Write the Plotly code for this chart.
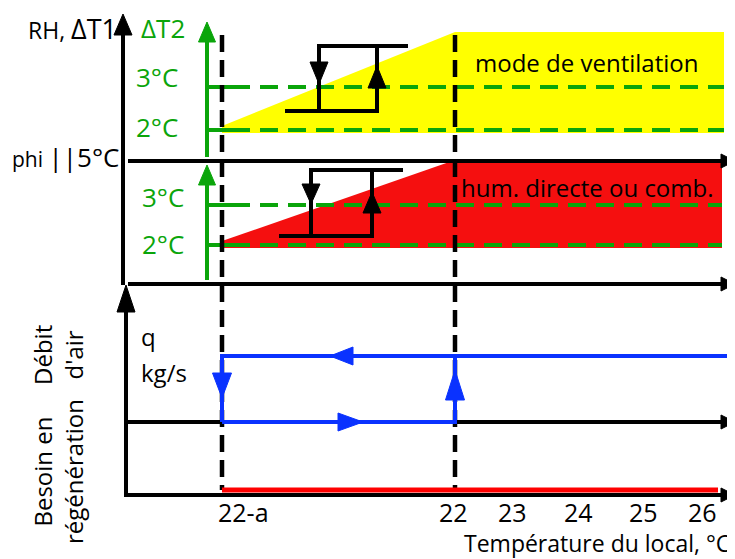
import plotly.graph_objects as go

W, H = 735, 559
PAGE_OFFSET = 8   # browser body margin; the axis range is shifted so marks land where intended
FONT = "Open Sans"

# ---------------- data (diagram units) ----------------
# temperature ticks along the bottom axis
tick_labels = ["22-a", "22", "23", "24", "25", "26"]
tick_x = [243, 453, 512, 578, 643, 702]
tick_y = 512

# switching temperatures (dashed verticals): 22-a and 22
x_low = 222
x_high = 455
dash_top, dash_bot = 35, 490

# main axes
x_axis_start = 128
x_axis_end = 735
upper_vaxis_x = 123
upper_vaxis = [285, 34]
lower_vaxis_x = 126
lower_vaxis = [497, 312]
h_axes_y = [161, 284, 422, 495]        # horizontal axis lines

# Delta T2 axes (green)
dt2_axis_x = 207
dt2_upper = [157, 42]
dt2_lower = [280, 185]
dt2_levels_upper = [87, 130]         # 3°C, 2°C levels in ventilation mode
dt2_levels_lower = [205, 245]        # 3°C, 2°C levels in direct humidification
dt2_labels = ["3°C", "2°C"]
dt2_end_upper = 724
dt2_end_lower = 722

# zone fills
vent_zone_x = [x_low, x_high, 724, 724, x_low]
vent_zone_y = [126, 32, 32, 133, 133]
hum_zone_x = [x_low, x_high, 722, 722, x_low]
hum_zone_y = [241, 160, 160, 248, 248]

# hysteresis loops
hyst_upper = dict(xb=285, xl=319, xr=377, xt=408, yt=46, yb=111)
hyst_lower = dict(xb=279, xl=311, xr=372, xt=403, yt=170, yb=236)

# air flow (blue) and regeneration (red)
q_high = 356
q_low = 422
q_end = 728
regen_y = 490
regen_end = 718

YELLOW = "#ffff00"
RED = "#f50f0f"
GREEN = "#0aa50a"
BLUE = "#0a32ff"
BLACK = "#000000"

fig = go.Figure()


def poly_fill(xs, ys, color):
    fig.add_trace(go.Scatter(x=xs, y=ys, mode="lines", fill="toself",
                             fillcolor=color, line=dict(width=0, color=color),
                             hoverinfo="skip", showlegend=False))


def line(xs, ys, color, width=4, dash=None):
    fig.add_trace(go.Scatter(x=xs, y=ys, mode="lines",
                             line=dict(color=color, width=width, dash=dash),
                             hoverinfo="skip", showlegend=False))


def tri(xt, yt, direction, length, half, color):
    if direction == "up":
        xs = [xt, xt - half, xt + half, xt]
        ys = [yt, yt + length, yt + length, yt]
    elif direction == "down":
        xs = [xt, xt - half, xt + half, xt]
        ys = [yt, yt - length, yt - length, yt]
    elif direction == "right":
        xs = [xt, xt - length, xt - length, xt]
        ys = [yt, yt - half, yt + half, yt]
    else:
        xs = [xt, xt + length, xt + length, xt]
        ys = [yt, yt - half, yt + half, yt]
    fig.add_trace(go.Scatter(x=xs, y=ys, mode="lines", fill="toself",
                             fillcolor=color, line=dict(width=1, color=color),
                             hoverinfo="skip", showlegend=False))


# zone fills
poly_fill(vent_zone_x, vent_zone_y, YELLOW)
poly_fill(hum_zone_x, hum_zone_y, RED)

# green dT2 axes, ticks and dashed levels
line([dt2_axis_x, dt2_axis_x], dt2_upper, GREEN, 4)
tri(dt2_axis_x, dt2_upper[1] - 20, "up", 20, 8.5, GREEN)
line([dt2_axis_x, dt2_axis_x], dt2_lower, GREEN, 4)
tri(dt2_axis_x, dt2_lower[1] - 20, "up", 20, 8.5, GREEN)
for yv in dt2_levels_upper:
    line([dt2_axis_x, 232], [yv, yv], GREEN, 4)
    line([232, dt2_end_upper], [yv, yv], GREEN, 4, "18px,10px")
for yv in dt2_levels_lower:
    line([dt2_axis_x, 232], [yv, yv], GREEN, 4)
    line([232, dt2_end_lower], [yv, yv], GREEN, 4, "18px,10px")

# main axes
line([upper_vaxis_x, upper_vaxis_x], upper_vaxis, BLACK, 4)
tri(upper_vaxis_x, 14, "up", 21, 9, BLACK)
line([lower_vaxis_x, lower_vaxis_x], lower_vaxis, BLACK, 4)
tri(lower_vaxis_x, 285, "up", 27, 9, BLACK)
for i, yv in enumerate(h_axes_y):
    if i == 2:
        line([x_axis_start, x_low], [yv, yv], BLACK, 4)
        line([x_high, x_axis_end - 12], [yv, yv], BLACK, 4)
    else:
        line([x_axis_start, x_axis_end - 12], [yv, yv], BLACK, 4)
    tri(x_axis_end, yv, "right", 14, 7, BLACK)

# dashed switching temperatures
for xv in (x_low, x_high):
    line([xv, xv], [dash_top, dash_bot], BLACK, 4.5, "17px,8px")

# hysteresis loops
for hy in (hyst_upper, hyst_lower):
    line([hy["xt"], hy["xl"], hy["xl"]], [hy["yt"], hy["yt"], hy["yb"]], BLACK, 4)
    line([hy["xb"], hy["xr"], hy["xr"]], [hy["yb"], hy["yb"], hy["yt"]], BLACK, 4)
tri(hyst_upper["xl"], 84, "down", 22, 9, BLACK)
tri(hyst_upper["xr"], 66, "up", 22, 9, BLACK)
tri(hyst_lower["xl"], 204, "down", 20, 9, BLACK)
tri(hyst_lower["xr"], 192, "up", 21, 9, BLACK)

# air flow loop (blue)
line([q_end, x_low, x_low], [q_high, q_high, q_low], BLUE, 4)
line([x_low, x_high, x_high], [q_low, q_low, q_high], BLUE, 4)
tri(x_low, 398, "down", 25, 9.5, BLUE)
tri(x_high, 370, "up", 30, 9.5, BLUE)
tri(330, q_high, "left", 23, 9, BLUE)
tri(363, q_low, "right", 25, 9, BLUE)

# regeneration need (red)
line([x_low, regen_end], [regen_y, regen_y], "#ff0000", 5)

# ---------------- texts ----------------
ann = []


def text(x, y, s, size=24, color=BLACK, xanchor="center", yanchor="middle", angle=0):
    ann.append(dict(x=x, y=y, xref="x", yref="y", text=s, showarrow=False,
                    xanchor=xanchor, yanchor=yanchor, textangle=angle, borderpad=0,
                    font=dict(family=FONT, size=size, color=color)))


text(118, 28, "RH, <span style='font-size:27px'>ΔT1</span>", size=23, xanchor="right")
text(140, 28, "ΔT2", size=26, color=GREEN, xanchor="left")
text(157, 77, dt2_labels[0], size=26, color=GREEN)
text(157, 127, dt2_labels[1], size=26, color=GREEN)
text(163, 197, dt2_labels[0], size=26, color=GREEN)
text(163, 244, dt2_labels[1], size=26, color=GREEN)
text(120, 157, "phi <span style='font-size:26px'>||5°C</span>", size=21, xanchor="right")
text(586, 62, "mode de ventilation", size=24)
text(587, 187, "hum. directe ou comb.", size=24)
text(140, 336, "q", size=24, xanchor="left")
text(140, 372, "kg/s", size=24, xanchor="left")
text(58, 355, "Débit<br>d'air", size=24, angle=-90)
text(58, 472, "Besoin en<br>régénération", size=24, angle=-90)
for lab, xv in zip(tick_labels, tick_x):
    text(xv, tick_y, lab, size=25)
text(731, 543, "Température du local, °C", size=23, xanchor="right")

fig.update_layout(
    width=W, height=H,
    margin=dict(l=0, r=0, t=0, b=0),
    paper_bgcolor="white", plot_bgcolor="white",
    xaxis=dict(range=[PAGE_OFFSET, W + PAGE_OFFSET], visible=False, fixedrange=True),
    yaxis=dict(range=[H + PAGE_OFFSET, PAGE_OFFSET], visible=False, fixedrange=True),
    annotations=ann,
    showlegend=False,
)

fig.write_html("out.html")
